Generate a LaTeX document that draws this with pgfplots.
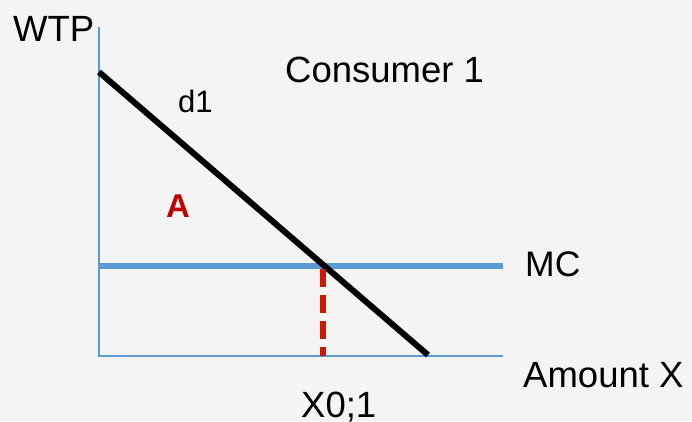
\documentclass[border=0pt]{standalone}
\usepackage{pgfplots}
\pgfplotsset{compat=1.18}
\usepackage{fontspec}
\setmainfont{Liberation Sans}
\definecolor{bg}{HTML}{F4F4F4}
\definecolor{axisblue}{HTML}{5B9BD5}
\definecolor{mcblue}{HTML}{5B9BD5}
\definecolor{dashred}{HTML}{CC1A00}
\definecolor{labelred}{HTML}{C00000}
\begin{document}
\begin{tikzpicture}
\begin{axis}[
  x=1bp, y=1bp, y dir=reverse,
  xmin=0, xmax=692, ymin=0, ymax=421,
  scale only axis, hide axis, clip=false,
  enlargelimits=false,
]
% background
\fill[bg] (axis cs:0,0) rectangle (axis cs:692,421);
% axes
\addplot[axisblue, line width=2bp] coordinates {(98.5,27) (98.5,356)};
\addplot[axisblue, line width=2bp] coordinates {(98,355.5) (503,355.5)};
% marginal cost
\addplot[mcblue, line width=5.5bp] coordinates {(98,266) (503,266)};
% demand curve d1
\addplot[black, line width=6bp] coordinates {(99,72) (428,355)};
% quantity at MC = WTP
\addplot[dashred, line width=5.5bp, dash pattern=on 18bp off 8bp] coordinates {(323,269) (323,356)};
% labels
\tikzset{lbl/.style={inner sep=0pt, anchor=base west, font=\fontsize{36.5bp}{42bp}\selectfont}}
\node[lbl] at (axis cs:13,42) {WTP};
\node[lbl] at (axis cs:285,83) {Consumer 1};
\node[lbl, font=\fontsize{31bp}{36bp}\selectfont] at (axis cs:178,113) {d1};
\node[lbl, font=\fontsize{33bp}{38bp}\selectfont\bfseries, text=labelred] at (axis cs:166,218) {A};
\node[lbl, font=\fontsize{35.5bp}{40bp}\selectfont] at (axis cs:525,277) {MC};
\node[lbl] at (axis cs:523,387) {Amount X};
\node[lbl] at (axis cs:301,417) {X0;1};
\end{axis}
\end{tikzpicture}
\end{document}
